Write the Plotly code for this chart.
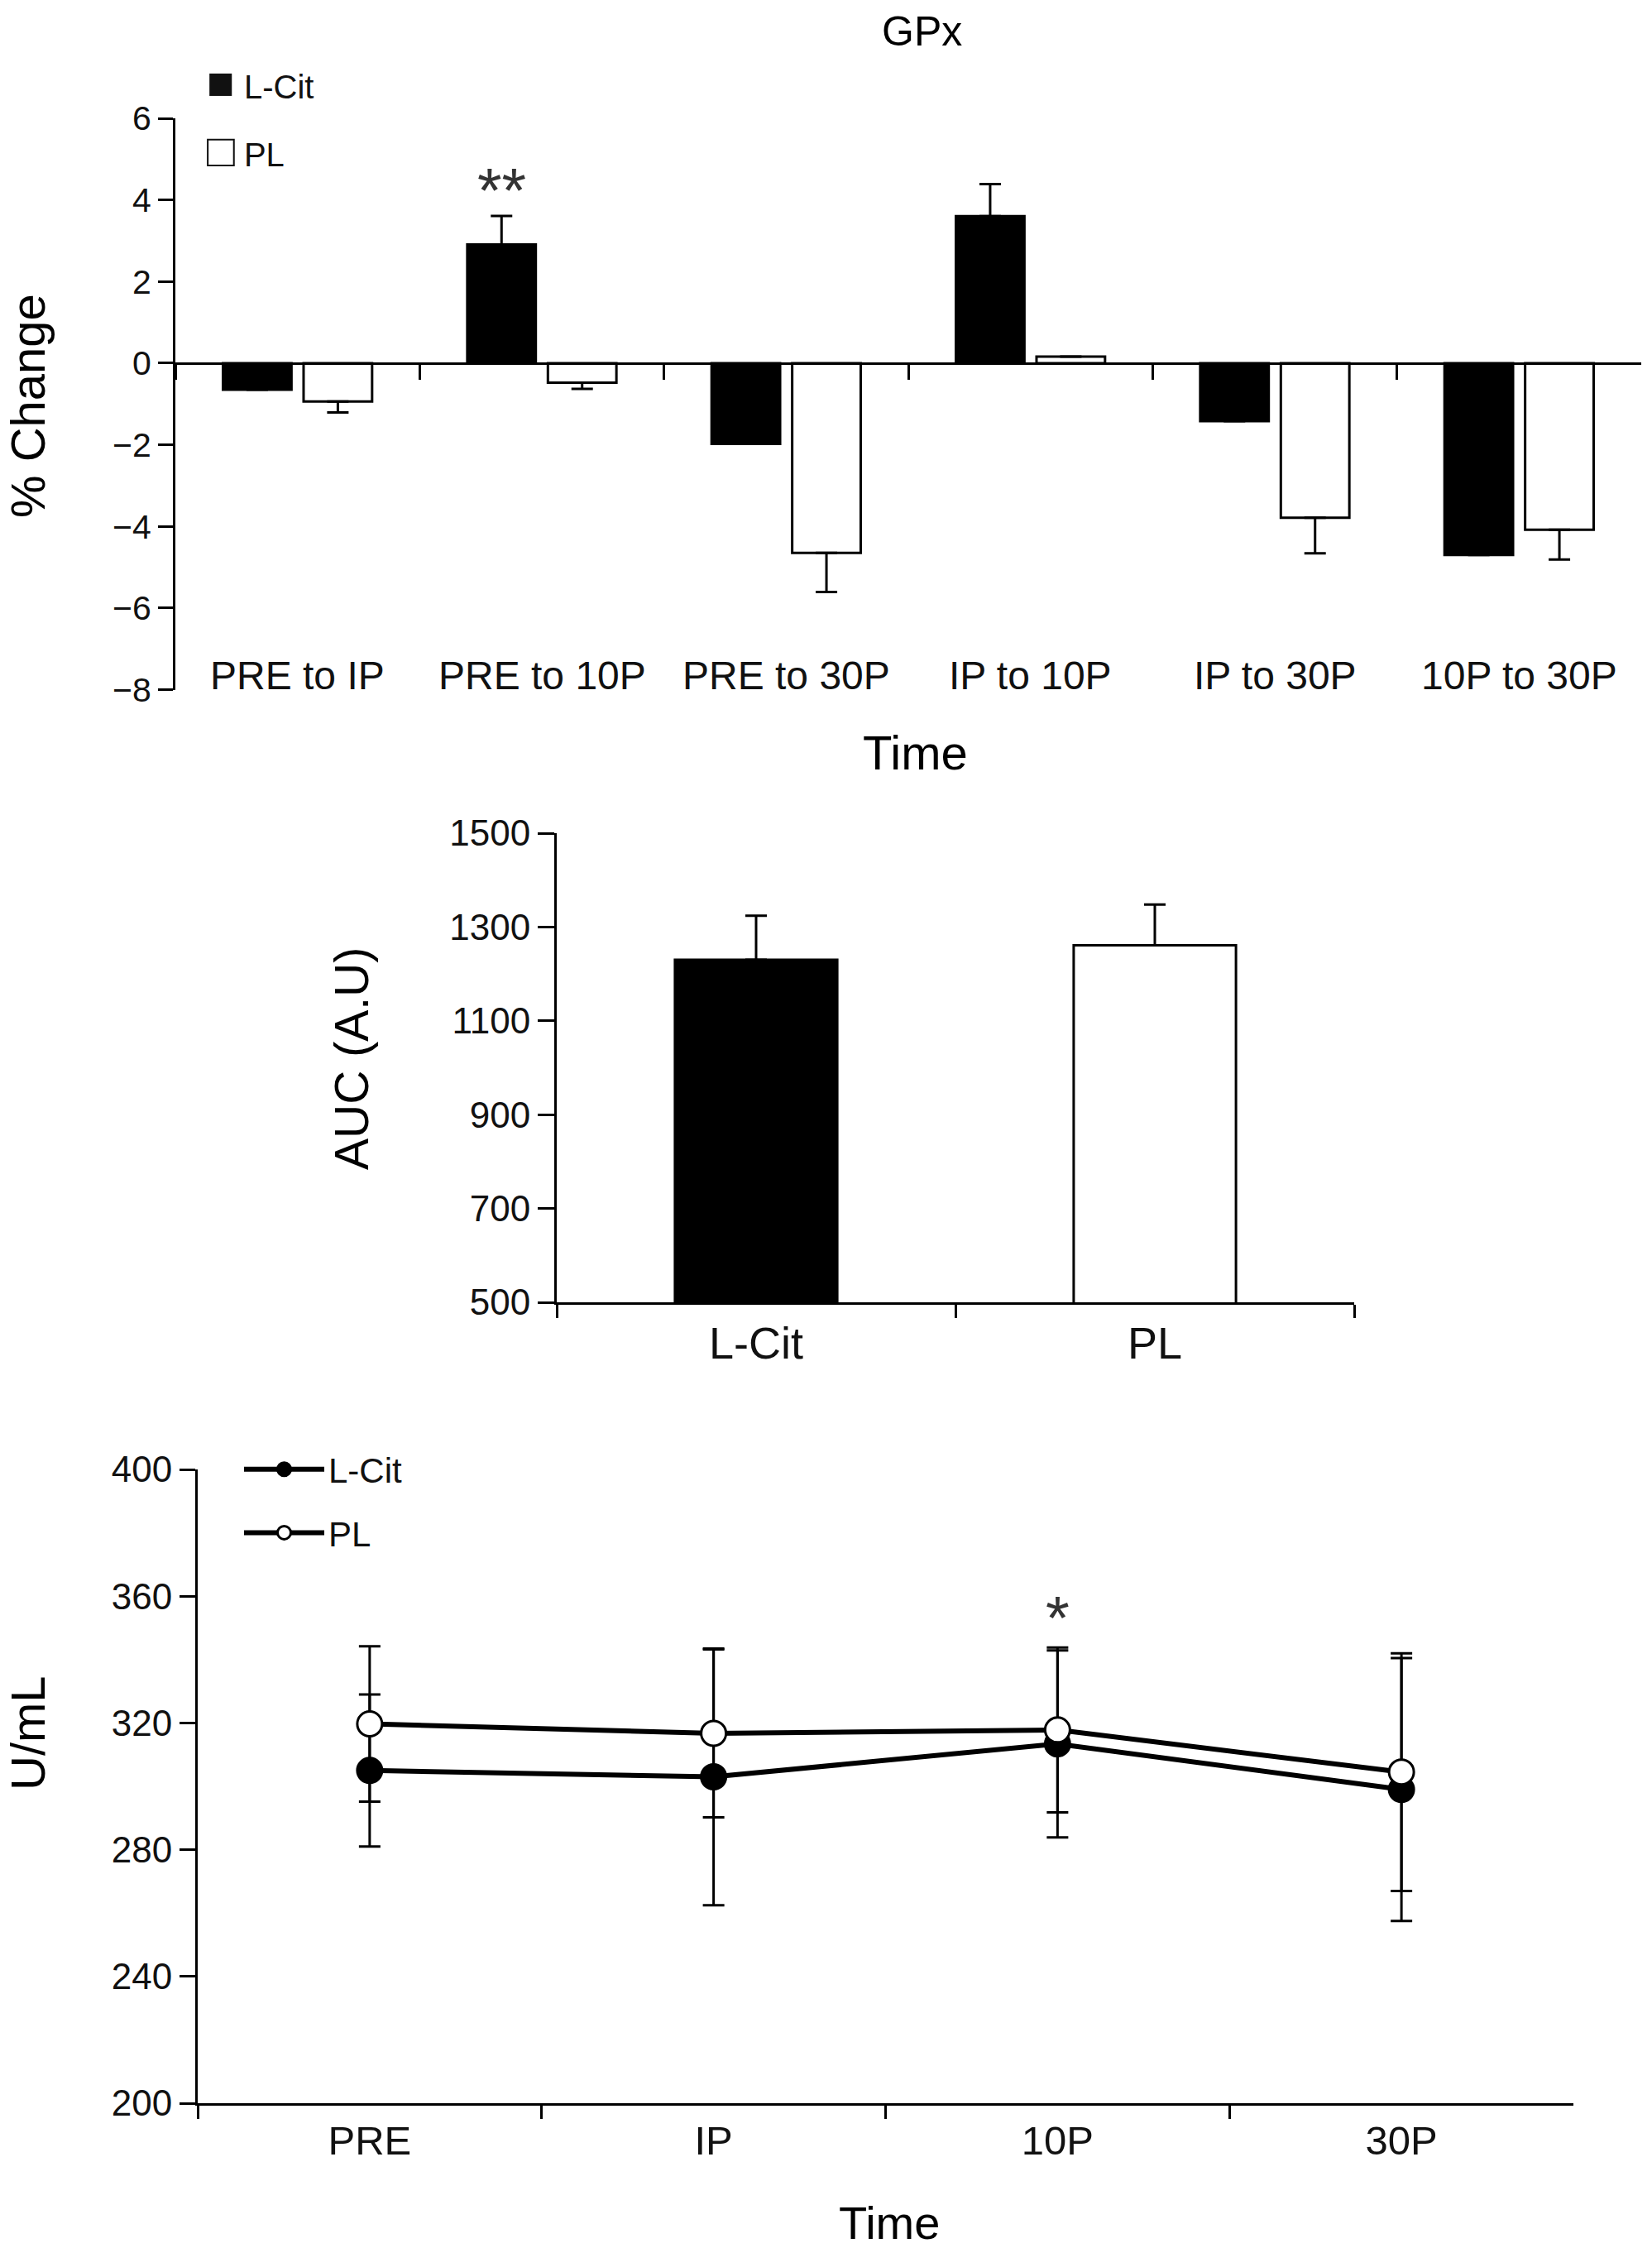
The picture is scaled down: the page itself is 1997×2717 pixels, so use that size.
import plotly.graph_objects as go

# ---------------- data ----------------
gpx_categories = ["PRE to IP", "PRE to 10P", "PRE to 30P", "IP to 10P", "IP to 30P", "10P to 30P"]
lcit_change = [-0.65, 2.91, -1.98, 3.60, -1.42, -4.70]
lcit_change_se_up = [0, 0.70, 0, 0.79, 0, 0]
pl_change = [-0.94, -0.48, -4.65, 0.16, -3.79, -4.08]
pl_change_se_down = [0.27, 0.15, 0.96, 0, 0.87, 0.73]

auc_groups = ["L-Cit", "PL"]
auc_values = [1230, 1261]
auc_se = [94, 87]

time_points = ["PRE", "IP", "10P", "30P"]
lcit_gpx = [305.0, 303.0, 313.4, 299.0]
lcit_gpx_se = [24.0, 40.5, 29.5, 41.5]
pl_gpx = [319.7, 316.7, 317.8, 304.5]
pl_gpx_se = [24.5, 26.5, 26.0, 37.5]

FONT = "Liberation Sans, Arial, sans-serif"
W, H = 1997, 2717

fig = go.Figure()

# ---- top: % change bars ----
fig.add_trace(go.Bar(
    x=gpx_categories, y=lcit_change, name="L-Cit", showlegend=False,
    marker=dict(color="black", line=dict(color="black", width=3)),
    error_y=dict(type="data", symmetric=False, array=lcit_change_se_up,
                 arrayminus=[0] * len(lcit_change), color="black", thickness=3, width=13),
    xaxis="x", yaxis="y"))
fig.add_trace(go.Bar(
    x=gpx_categories, y=pl_change, name="PL", showlegend=False,
    marker=dict(color="white", line=dict(color="black", width=3)),
    error_y=dict(type="data", symmetric=False, array=[0] * len(pl_change),
                 arrayminus=pl_change_se_down, color="black", thickness=3, width=13),
    xaxis="x", yaxis="y"))

# ---- middle: AUC bars ----
fig.add_trace(go.Bar(
    x=auc_groups, y=auc_values, width=0.407, showlegend=False,
    marker=dict(color=["black", "white"], line=dict(color="black", width=3)),
    error_y=dict(type="data", symmetric=False, array=auc_se, arrayminus=[0, 0],
                 color="black", thickness=3, width=13),
    xaxis="x2", yaxis="y2"))

# ---- bottom: U/mL lines ----
fig.add_trace(go.Scatter(
    x=time_points, y=lcit_gpx, name="L-Cit", mode="lines+markers",
    line=dict(color="black", width=6),
    marker=dict(symbol="circle", size=30, color="black", line=dict(color="black", width=3)),
    error_y=dict(type="data", array=lcit_gpx_se, color="black", thickness=3, width=13),
    xaxis="x3", yaxis="y3", legend="legend2", legendgroup="a"))
fig.add_trace(go.Scatter(
    x=time_points, y=pl_gpx, name="PL", mode="lines+markers",
    line=dict(color="black", width=6),
    marker=dict(symbol="circle", size=30, color="white", line=dict(color="black", width=3)),
    error_y=dict(type="data", array=pl_gpx_se, color="black", thickness=3, width=13),
    xaxis="x3", yaxis="y3", legend="legend2", legendgroup="b"))


def px_x(p):
    return p / W


def px_y(p):
    return 1 - p / H


top_dom = [px_y(833.5), px_y(143)]
top_range = [-8, 6]
zero_pos = top_dom[0] + (0 - top_range[0]) / (top_range[1] - top_range[0]) * (top_dom[1] - top_dom[0])

axis_common = dict(showline=True, linecolor="black", linewidth=3, ticks="outside",
                   tickwidth=3, tickcolor="black", showgrid=False, zeroline=False,
                   automargin=False, tickfont=dict(family=FONT, color="#111"))

fig.update_layout(
    template="none",
    width=W, height=H, margin=dict(l=0, r=0, t=0, b=0, pad=0, autoexpand=False),
    paper_bgcolor="white", plot_bgcolor="white",
    font=dict(family=FONT, color="black"),
    barmode="group", bargap=0.34, bargroupgap=0.15,
    xaxis=dict(axis_common, domain=[px_x(212), px_x(1984)], anchor="free", position=zero_pos,
               type="category", range=[-0.5, 5.5], tickson="boundaries", ticklen=18,
               showticklabels=False),
    yaxis=dict(axis_common, domain=top_dom, anchor="x", range=top_range, tick0=-8, dtick=2,
               ticklen=18, tickfont=dict(family=FONT, size=41, color="#111")),
    xaxis2=dict(axis_common, domain=[px_x(673), px_x(1637)], anchor="y2", type="category",
                range=[-0.5, 1.5], tickson="boundaries", ticklen=16,
                tickfont=dict(family=FONT, size=54, color="#111")),
    yaxis2=dict(axis_common, domain=[px_y(1574), px_y(1007)], anchor="x2", range=[500, 1500],
                tick0=500, dtick=200, ticklen=20, tickfont=dict(family=FONT, size=44, color="#111")),
    xaxis3=dict(axis_common, domain=[px_x(239), px_x(1902)], anchor="y3", type="category",
                range=[-0.5, 3.5], tickson="boundaries", ticklen=16,
                tickfont=dict(family=FONT, size=49, color="#111")),
    yaxis3=dict(axis_common, domain=[px_y(2542), px_y(1776)], anchor="x3", range=[200, 400],
                tick0=200, dtick=40, ticklen=19, tickfont=dict(family=FONT, size=44, color="#111")),
    legend2=dict(x=px_x(290), y=px_y(1742), xanchor="left", yanchor="top",
                 font=dict(family=FONT, size=42, color="#111"), itemwidth=97,
                 tracegroupgap=19, bgcolor="rgba(0,0,0,0)"),
)

annotations = []
# category labels of the top chart, sitting on the -8 line
for c in gpx_categories:
    annotations.append(dict(x=c, y=top_range[0], xref="x", yref="y", text=c, showarrow=False,
                            xanchor="center", yanchor="bottom", yshift=-12,
                            font=dict(family=FONT, size=48, color="#111")))
# significance marks
annotations.append(dict(x=gpx_categories[1], y=lcit_change[1] + lcit_change_se_up[1] + 0.64,
                        xref="x", yref="y", text="**", showarrow=False, xshift=-49,
                        xanchor="center", yanchor="middle",
                        font=dict(family=FONT, size=76, color="#333")))
annotations.append(dict(x=time_points[2], y=pl_gpx[2] + pl_gpx_se[2] + 9.4,
                        xref="x3", yref="y3", text="*", showarrow=False,
                        xanchor="center", yanchor="middle",
                        font=dict(family=FONT, size=74, color="#333")))


def title(text, x, y, size, angle=0, xanchor="center"):
    return dict(x=px_x(x), y=px_y(y), xref="paper", yref="paper", text=text, showarrow=False,
                textangle=angle, xanchor=xanchor, yanchor="middle",
                font=dict(family=FONT, size=size, color="black"))


annotations += [
    title("GPx", 1114, 38, 50),
    title("Time", 1106, 910, 58),
    title("% Change", 34, 491, 58, -90),
    title("AUC (A.U)", 425, 1280, 57, -90),
    title("U/mL", 33, 2095, 58, -90),
    title("Time", 1075, 2686, 56),
    # top legend
    dict(x=px_x(248), y=px_y(99), xref="paper", yref="paper",
         text="<span style='font-size:56px'>■</span> L-Cit", showarrow=False,
         xanchor="left", yanchor="middle", font=dict(family=FONT, size=40, color="#111")),
    dict(x=px_x(248), y=px_y(181), xref="paper", yref="paper",
         text="<span style='font-size:56px'>□</span> PL", showarrow=False,
         xanchor="left", yanchor="middle", font=dict(family=FONT, size=40, color="#111")),
]
fig.update_layout(annotations=annotations)

fig.write_html("out.html")
